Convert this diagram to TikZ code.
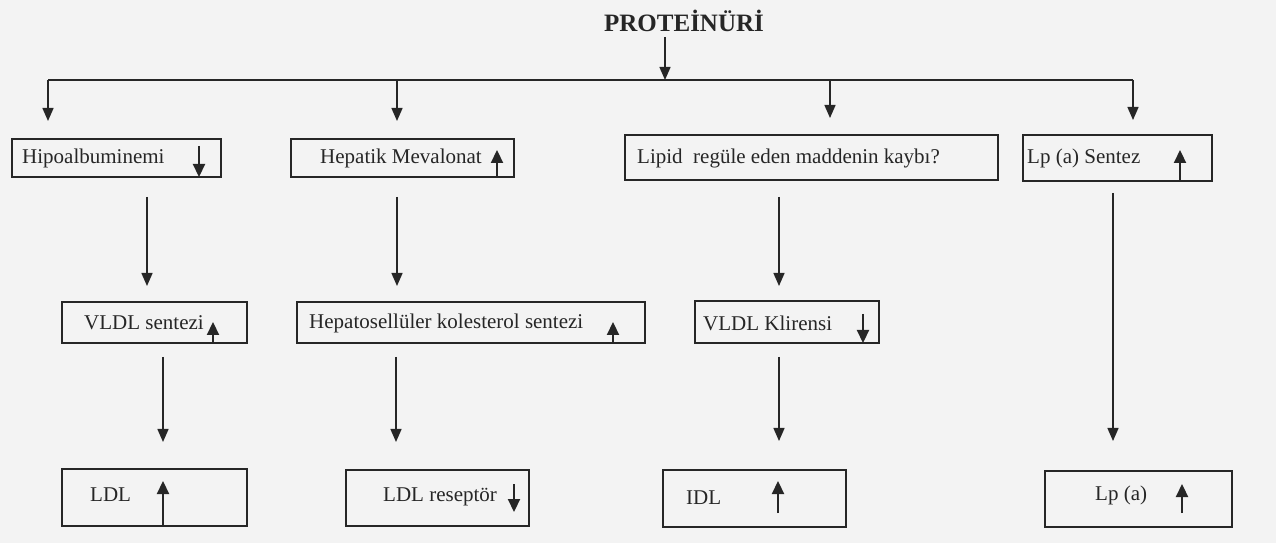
\documentclass[tikz,border=0pt]{standalone}
\usepackage{fontspec}
\setmainfont{Liberation Serif}
\usetikzlibrary{arrows.meta}
\definecolor{ink}{HTML}{262626}
\definecolor{paper}{HTML}{F3F3F3}
\tikzset{
  box/.style={draw=ink, line width=1.4bp, rectangle, inner sep=0pt},
  lbl/.style={anchor=west, inner sep=0pt, text=ink, font=\fontsize{21bp}{25bp}\selectfont},
  conn/.style={draw=ink, line width=1.4bp},
  arr/.style={conn, -{Triangle[width=11bp,length=13bp]}},
  mini/.style={draw=ink, line width=2.2bp, -{Triangle[width=12bp,length=13bp]}}
}
\begin{document}
\begin{tikzpicture}[x=1bp,y=-1bp]
\useasboundingbox (0,0) rectangle (1276,543);
\fill[paper] (0,0) rectangle (1276,543);

% title
\node[inner sep=0pt, text=ink, font=\fontsize{25bp}{29bp}\selectfont\bfseries] (t) at (684,21) {PROTEİNÜRİ};

% boxes
\node[box, minimum width=209bp, minimum height=38bp] (b1) at (116.5,158) {};
\node[box, minimum width=223bp, minimum height=38bp] (b2) at (402.5,158) {};
\node[box, minimum width=373bp, minimum height=45bp] (b3) at (811.5,157.5) {};
\node[box, minimum width=189bp, minimum height=46bp] (b4) at (1117.5,158) {};
\node[box, minimum width=185bp, minimum height=41bp] (b5) at (154.5,322.5) {};
\node[box, minimum width=348bp, minimum height=41bp] (b6) at (471,322.5) {};
\node[box, minimum width=184bp, minimum height=42bp] (b7) at (787,322) {};
\node[box, minimum width=185bp, minimum height=57bp] (b8) at (154.5,497.5) {};
\node[box, minimum width=183bp, minimum height=56bp] (b9) at (437.5,498) {};
\node[box, minimum width=183bp, minimum height=57bp] (b10) at (754.5,498.5) {};
\node[box, minimum width=187bp, minimum height=56bp] (b11) at (1138.5,499) {};

% labels
\node[lbl] (l1) at (22,158) {Hipoalbuminemi};
\node[lbl] (l2) at (320,158) {Hepatik Mevalonat};
\node[lbl] (l3) at (637,158) {Lipid\ \ regüle eden maddenin kaybı?};
\node[lbl] (l4) at (1027,158) {Lp (a) Sentez};
\node[lbl] (l5) at (84,323) {VLDL sentezi};
\node[lbl] (l6) at (309,323) {Hepatosellüler kolesterol sentezi};
\node[lbl] (l7) at (703,323) {VLDL Klirensi};
\node[lbl] (l8) at (90,495) {LDL};
\node[lbl] (l9) at (383,497) {LDL reseptör};
\node[lbl] (l10) at (686,498) {IDL};
\node[lbl] (l11) at (1095,495) {Lp (a)};

% inner up/down arrows
\coordinate (i1a) at (199,146);  \coordinate (i1b) at (199,177);
\coordinate (i2a) at (497,177);  \coordinate (i2b) at (497,150);
\coordinate (i4a) at (1180,181); \coordinate (i4b) at (1180,150);
\coordinate (i5a) at (213,343);  \coordinate (i5b) at (213,322);
\coordinate (i6a) at (613,343);  \coordinate (i6b) at (613,322);
\coordinate (i7a) at (863,314);  \coordinate (i7b) at (863,343);
\coordinate (i8a) at (163,526);  \coordinate (i8b) at (163,481);
\coordinate (i9a) at (514,484);  \coordinate (i9b) at (514,512);
\coordinate (i10a) at (778,513); \coordinate (i10b) at (778,481);
\coordinate (i11a) at (1182,513);\coordinate (i11b) at (1182,484);
\foreach \k in {1,2,4,5,6,7,8,9,10,11} \draw[mini] (i\k a) -- (i\k b);

% distribution line
\coordinate (tA) at (665,37);  \coordinate (jT) at (665,80);
\coordinate (jL) at (48,80);   \coordinate (jR) at (1133,80);
\coordinate (j2) at (397,80);  \coordinate (j3) at (830,80);
\coordinate (e1) at (48,121);  \coordinate (e2) at (397,121);
\coordinate (e3) at (830,118); \coordinate (e4) at (1133,120);
\draw[conn] (jL) -- (jR);
\draw[arr] (tA) -- (jT);
\draw[arr] (jL) -- (e1);
\draw[arr] (j2) -- (e2);
\draw[arr] (j3) -- (e3);
\draw[arr] (jR) -- (e4);

% vertical connectors
\coordinate (s1) at (147,197);  \coordinate (f1) at (147,286);
\coordinate (s2) at (397,197);  \coordinate (f2) at (397,286);
\coordinate (s3) at (779,197);  \coordinate (f3) at (779,286);
\coordinate (s4) at (1113,193); \coordinate (f4) at (1113,441);
\coordinate (s5) at (163,357);  \coordinate (f5) at (163,442);
\coordinate (s6) at (396,357);  \coordinate (f6) at (396,442);
\coordinate (s7) at (779,357);  \coordinate (f7) at (779,441);
\foreach \k in {1,...,7} \draw[arr] (s\k) -- (f\k);
\end{tikzpicture}
\end{document}
